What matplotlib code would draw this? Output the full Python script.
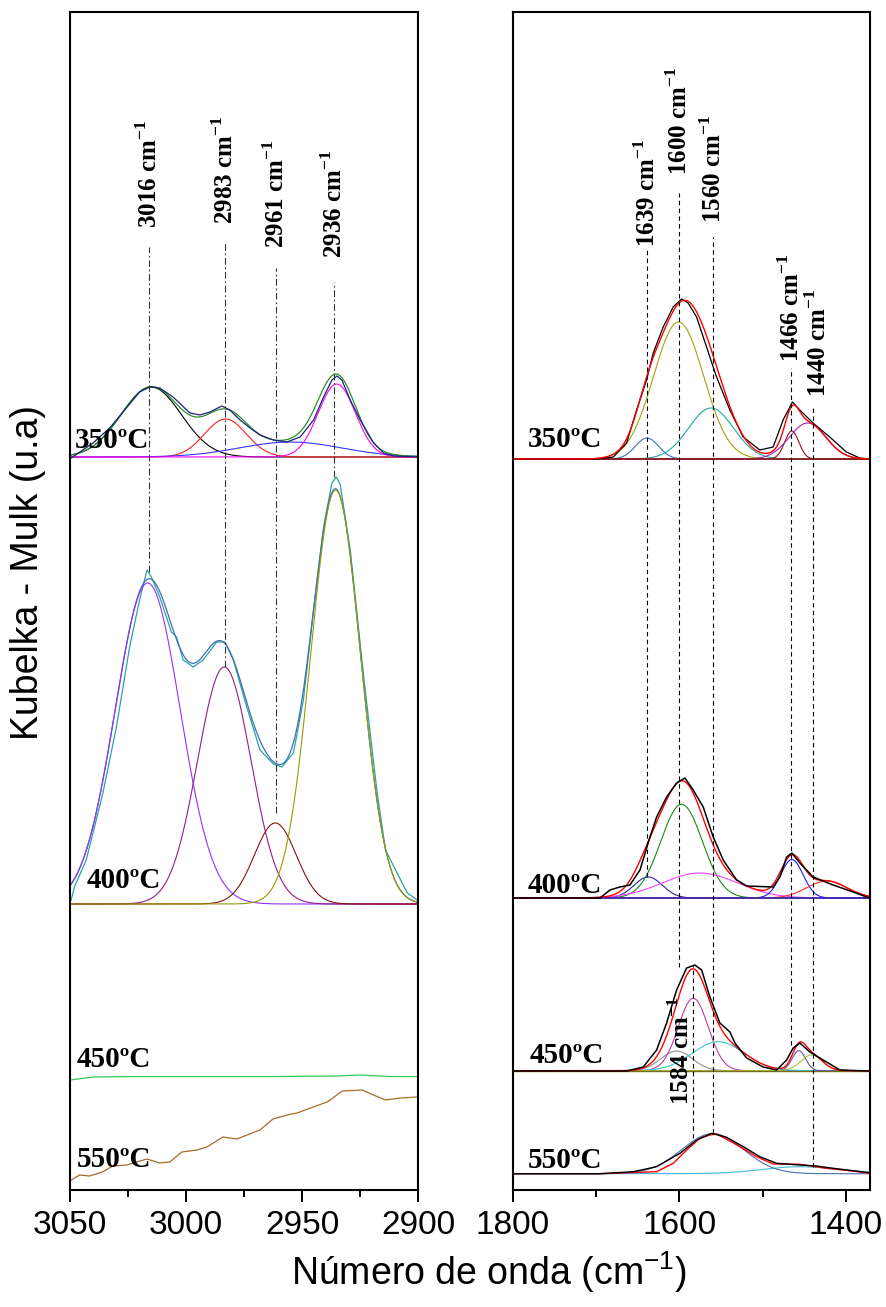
import numpy as np
import matplotlib.pyplot as plt
from matplotlib.ticker import MultipleLocator

plt.rcParams['font.family'] = ['Liberation Sans', 'DejaVu Sans']
plt.rcParams['mathtext.fontset'] = 'custom'
plt.rcParams['mathtext.rm'] = 'Liberation Serif:bold'
plt.rcParams['mathtext.sf'] = 'Liberation Sans'

# ---------------- region 3050-2900 cm-1 ----------------
# 350 C : fitted bands (centre, height, sigma) + measured spectrum
a350_base = 73.3
a350_cen = [3015, 2983, 2955, 2935]
a350_alt = [7.0, 3.8, 1.5, 7.3]
a350_sig = [13, 9, 22, 8]
a350_x = [3049.5, 3040.1, 3032.9, 3025.7, 3020.0, 3015.6, 3011.3, 3005.6, 2998.3,
          2994.0, 2989.7, 2984.6, 2981.1, 2976.7, 2972.4, 2968.1, 2962.3, 2956.5,
          2950.8, 2945.0, 2940.7, 2937.1, 2934.9, 2932.8, 2929.2, 2924.9, 2919.1,
          2914.8, 2910.5, 2900.3]
a350_y = [73.2, 74.7, 76.2, 78.2, 79.8, 80.3, 80.2, 79.3, 77.7, 77.5, 77.8, 78.4,
          78.0, 77.0, 76.2, 75.5, 75.0, 74.8, 75.3, 77.0, 79.3, 81.0, 81.4, 81.0,
          79.0, 77.0, 74.7, 73.7, 73.4, 73.3]

# 400 C
a400_base = 28.6
a400_cen = [3016.5, 2983.5, 2961.5, 2935.5]
a400_alt = [32.1, 23.7, 8.1, 41.4]
a400_sig = [14, 11.5, 9, 10.7]
a400_x = [3049.5, 3048.1, 3043.0, 3035.8, 3030.0, 3024.3, 3020.0, 3016.8, 3014.9,
          3011.3, 3006.3, 3004.1, 3001.2, 2996.9, 2992.6, 2986.8, 2983.2, 2979.6,
          2973.8, 2968.1, 2962.3, 2958.7, 2953.7, 2949.4, 2945.0, 2940.7, 2937.1,
          2935.2, 2933.5, 2929.2, 2923.4, 2917.6, 2914.0, 2909.0, 2904.6, 2900.3]
a400_y = [29.0, 30.3, 33.0, 39.7, 46.3, 54.3, 59.0, 62.0, 61.3, 59.3, 55.8, 55.3,
          53.0, 52.3, 53.0, 54.8, 54.8, 53.0, 48.3, 44.0, 42.6, 42.3, 43.7, 49.0,
          58.0, 66.3, 70.7, 71.3, 70.5, 64.0, 51.3, 39.7, 34.0, 31.7, 29.7, 29.0]

# 450 C and 550 C (no bands)
a450_x = [3050, 3040, 3020, 2960, 2935, 2925, 2912, 2900]
a450_y = [11.0, 11.3, 11.35, 11.35, 11.4, 11.5, 11.35, 11.35]
a550_x = [3049.4, 3045.9, 3041.6, 3036.0, 3031.6, 3025.6, 3016.9, 3011.3, 3007.0,
          3001.8, 2995.3, 2991.0, 2984.1, 2978.0, 2973.7, 2968.1, 2962.5, 2956.4,
          2952.1, 2945.2, 2939.1, 2932.6, 2924.0, 2919.2, 2914.0, 2907.6, 2900.2]
a550_y = [1.0, 1.5, 1.4, 1.8, 2.4, 2.5, 3.1, 2.7, 2.8, 3.8, 4.0, 4.3, 5.3, 5.1,
          5.5, 6.0, 7.1, 7.5, 7.7, 8.3, 8.8, 9.9, 10.0, 9.5, 9.0, 9.2, 9.3]

# assigned bands, left region
a_marks = [3016, 2983, 2961, 2936]
a_mark_top = [94.3, 94.7, 92.2, 90.8]
a_mark_bot = [61.8, 52.3, 37.7, 71.3]
a_lab_y = [96.2, 96.6, 94.2, 93.2]

# ---------------- region 1800-1370 cm-1 ----------------
b350_base = 73.1
b350_cen = [1639, 1601, 1562, 1465, 1446]
b350_alt = [2.1, 13.7, 5.1, 2.8, 3.6]
b350_sig = [14, 30, 27, 8.5, 22]
b350_x = [1797.6, 1699.5, 1679.5, 1663.5, 1651.5, 1639.5, 1631.5, 1619.5, 1607.5,
          1597.5, 1589.5, 1579.4, 1567.4, 1555.4, 1539.4, 1523.4, 1503.4, 1487.4,
          1475.4, 1464.2, 1455.4, 1439.4, 1419.4, 1399.4, 1383.4, 1371.4]
b350_y = [73.1, 73.1, 73.3, 74.7, 78.0, 81.0, 83.7, 86.3, 88.3, 89.1, 88.7, 87.3,
          84.3, 81.3, 78.0, 75.3, 74.0, 74.3, 77.0, 78.8, 78.0, 76.7, 75.3, 73.8,
          73.2, 73.1]

b400_base = 29.2
b400_cen = [1637.5, 1597.4, 1575.4, 1464.9, 1423]
b400_alt = [2.1, 9.37, 2.5, 3.84, 1.7]
b400_sig = [17, 25, 45, 13.5, 24]
b400_x = [1799.0, 1719.5, 1695.5, 1683.5, 1671.5, 1659.5, 1647.4, 1635.4, 1627.4,
          1615.4, 1603.4, 1593.4, 1583.4, 1571.4, 1559.4, 1547.4, 1531.3, 1519.3,
          1487.3, 1479.3, 1471.2, 1464.9, 1455.3, 1439.3, 1415.3, 1391.2, 1375.1,
          1371.2]
b400_y = [29.2, 29.2, 29.2, 30.0, 30.3, 30.5, 32.0, 35.3, 37.3, 39.3, 40.7, 41.2,
          40.0, 38.3, 35.3, 33.0, 31.0, 30.4, 30.3, 31.3, 33.3, 33.7, 32.7, 31.3,
          30.5, 29.8, 29.3, 29.2]

b450_base = 11.93
b450_cen = [1603.4, 1583.4, 1553.4, 1456.5, 1441.2]
b450_alt = [1.97, 7.24, 2.9, 2.0, 1.57]
b450_sig = [19, 18, 31, 8, 13]
b450_x = [1799.6, 1663.4, 1643.5, 1627.4, 1615.4, 1603.4, 1591.4, 1581.4, 1573.3,
          1563.4, 1551.4, 1539.3, 1533.3, 1519.3, 1499.3, 1483.2, 1471.2, 1463.3,
          1455.3, 1443.2, 1427.3, 1407.2, 1371.2]
b450_y = [11.9, 11.9, 12.3, 14.0, 16.7, 20.0, 22.2, 22.5, 22.0, 19.3, 16.7, 15.8,
          14.7, 13.2, 12.3, 12.0, 13.0, 14.2, 14.7, 13.8, 13.0, 12.0, 11.9]

b550_base = 1.63
b550_cen = [1560, 1455]
b550_alt = [4.0, 0.7]
b550_sig = [37, 46]
b550_x = [1799.6, 1695.5, 1655.5, 1627.4, 1599.4, 1579.3, 1561.3, 1543.3, 1523.3,
          1503.3, 1483.2, 1455.3, 1435.3, 1415.3, 1391.2, 1371.2]
b550_y = [1.63, 1.63, 1.83, 2.33, 3.67, 5.0, 5.67, 5.27, 4.33, 3.33, 2.67, 2.5,
          2.4, 2.17, 1.93, 1.73]
b550_fit_x = [1800, 1695.5, 1627.4, 1607.4, 1591.4, 1575.4, 1563.4, 1555.4, 1543.3,
              1527.3, 1507.3, 1487.3, 1455.3, 1423.3, 1395.2, 1371.2]
b550_fit_y = [1.63, 1.63, 1.83, 2.67, 4.0, 5.17, 5.5, 5.6, 5.07, 4.33, 3.33, 2.6,
              2.57, 2.17, 1.93, 1.67]

# assigned bands, right region
b_marks = [1639, 1600, 1560, 1466, 1440, 1584]
b_mark_top = [94.0, 99.7, 95.3, 82.2, 78.2, 22.5]
b_mark_bot = [31.3, 22.3, 5.7, 14.5, 2.3, 5.2]
b_lab_y = [94.3, 101.5, 96.7, 82.8, 79.3, 8.5]


def gauss(x, c, h, s):
    return h * np.exp(-0.5 * ((x - c) / s) ** 2)


def bands(ax, xs, base, cen, alt, sig, colors, lw=0.8):
    tot = np.zeros_like(xs)
    for c, h, s, col in zip(cen, alt, sig, colors):
        g = gauss(xs, c, h, s)
        tot += g
        ax.plot(xs, base + g, color=col, lw=lw)
    return base + tot


fig = plt.figure(figsize=(8.87, 13.07), dpi=100)
axL = fig.add_axes([70 / 887, 117 / 1307, 348 / 887, 1178 / 1307])
axR = fig.add_axes([513 / 887, 117 / 1307, 357 / 887, 1178 / 1307])

xl = np.linspace(3050, 2900, 900)
xr = np.linspace(1800, 1371, 900)

# left panel
env = bands(axL, xl, a350_base, a350_cen, a350_alt, a350_sig,
            ['black', '#ff2020', '#3535ff', '#ff00ff'])
axL.plot(xl, env, color='#2e8b2e', lw=0.9)
axL.plot(a350_x, a350_y, color='#1c2478', lw=0.9)

axL.plot(a400_x, a400_y, color='#2aa3a3', lw=0.9)
env = np.full_like(xl, a400_base)
for c, h, s in zip(a400_cen, a400_alt, a400_sig):
    env += gauss(xl, c, h, s)
axL.plot(xl, env, color='#3f6fb0', lw=0.9)
bands(axL, xl, a400_base, a400_cen, a400_alt, a400_sig,
      ['#9430ff', '#9a1a8a', '#8b1010', '#9a9a00'])

axL.plot(a450_x, a450_y, color='#33cc55', lw=0.9)
axL.plot(a550_x, a550_y, color='#a86a2a', lw=0.9)

for v, t, b, ly in zip(a_marks, a_mark_top, a_mark_bot, a_lab_y):
    axL.plot([v, v], [b, t], color='#333333', lw=0.8, ls=(0, (6, 2.5, 1.5, 2.5)))
    axL.text(v, ly, f'{v} cm$^{{-1}}$', rotation=90, ha='center', va='bottom',
             family='Liberation Serif', weight='bold', fontsize=18)

# right panel
env = bands(axR, xr, b350_base, b350_cen, b350_alt, b350_sig,
            ['#3a70c8', '#a8a010', '#20a8a8', '#8b1a1a', '#a020b0'])
axR.plot(xr, np.full_like(xr, b350_base), color='#8b1a1a', lw=1.2)
axR.plot(b350_x, b350_y, color='black', lw=0.9)
axR.plot(xr, env, color='#ff0000', lw=1.0)

env = bands(axR, xr, b400_base, b400_cen, b400_alt, b400_sig,
            ['#2a2a9a', '#1a8a1a', '#ff40ff', '#1a1aff', '#ff2a2a'])
axR.plot(xr, np.full_like(xr, b400_base), color='#3a2ab0', lw=1.2)
axR.plot(xr, env, color='#ff0000', lw=1.0)
axR.plot(b400_x, b400_y, color='black', lw=1.1)

env = bands(axR, xr, b450_base, b450_cen, b450_alt, b450_sig,
            ['#909090', '#c03c9c', '#30c8d0', '#5a5ab0', '#a8c43c'])
axR.plot(xr, np.full_like(xr, b450_base), color='#7a6a20', lw=1.0)
axR.plot(xr, env, color='#ff0000', lw=1.0)
axR.plot(b450_x, b450_y, color='black', lw=1.1)

bands(axR, xr, b550_base, b550_cen[1:], b550_alt[1:], b550_sig[1:], ['#40b8e0'])
bands(axR, xr, b550_base, b550_cen[:1], b550_alt[:1], b550_sig[:1], ['#4a70b0'])
axR.plot(b550_fit_x, b550_fit_y, color='#ff0000', lw=1.0)
axR.plot(b550_x, b550_y, color='black', lw=1.0)

# label shifts in points (1584 sits left of its line, 1440 a bit right)
shift = {1584: -8, 1440: 4}
for v, t, b, ly in zip(b_marks, b_mark_top, b_mark_bot, b_lab_y):
    axR.plot([v, v], [b, t], color='black', lw=0.8, ls=(0, (4, 3)))
    axR.annotate(f'{v} cm$^{{-1}}$', xy=(v, ly), xytext=(shift.get(v, 0), 0),
                 textcoords='offset points', rotation=90, ha='center', va='bottom',
                 family='Liberation Serif', weight='bold', fontsize=18)

# temperature tags
tag = dict(family='Liberation Serif', weight='bold', fontsize=21, va='baseline')
axL.text(3048.1, 74.2, '350ºC', **tag)
axL.text(3042.9, 30.2, '400ºC', **tag)
axL.text(3047.2, 12.3, '450ºC', **tag)
axL.text(3047.2, 2.3, '550ºC', **tag)
axR.text(1782, 74.3, '350ºC', **tag)
axR.text(1782, 29.7, '400ºC', **tag)
axR.text(1780, 12.7, '450ºC', **tag)
axR.text(1782, 2.2, '550ºC', **tag)

for ax in (axL, axR):
    ax.set_ylim(0, 117.8)
    ax.set_yticks([])
    for sp in ax.spines.values():
        sp.set_linewidth(1.5)
    ax.tick_params(axis='x', which='major', direction='out', length=8.5, width=1.4,
                   labelsize=24, pad=6)
    ax.tick_params(axis='x', which='minor', direction='out', length=5, width=1.4)

axL.set_xlim(3050, 2900)
axL.set_xticks([3050, 3000, 2950, 2900])
axL.xaxis.set_minor_locator(MultipleLocator(25))
axR.set_xlim(1800, 1371)
axR.set_xticks([1800, 1600, 1400])
axR.xaxis.set_minor_locator(MultipleLocator(100))

fig.text(489 / 887, 1 - 1272 / 1307, 'Número de onda (cm$^{\\mathsf{-1}}$)',
         ha='center', va='center', fontsize=27)
fig.text(28 / 887, 1 - 573 / 1307, 'Kubelka - Mulk (u.a)', rotation=90,
         ha='center', va='center', fontsize=27)

fig.savefig('out.png', dpi=100)
